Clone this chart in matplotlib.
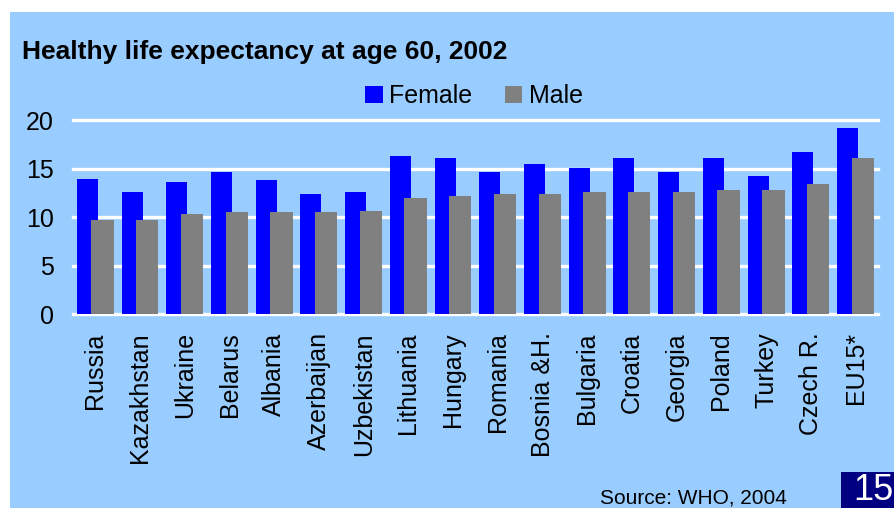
import matplotlib
matplotlib.use("Agg")
import matplotlib.pyplot as plt
import numpy as np
from matplotlib.patches import Rectangle, Patch

plt.rcParams['font.family'] = ['Liberation Sans', 'DejaVu Sans']

countries = ["Russia", "Kazakhstan", "Ukraine", "Belarus", "Albania", "Azerbaijan",
             "Uzbekistan", "Lithuania", "Hungary", "Romania", "Bosnia &H.", "Bulgaria",
             "Croatia", "Georgia", "Poland", "Turkey", "Czech R.", "EU15*"]
female = [14.0, 12.6, 13.6, 14.7, 13.8, 12.4, 12.6, 16.3, 16.1, 14.7, 15.5, 15.1,
          16.1, 14.7, 16.1, 14.3, 16.7, 19.2]
male = [9.7, 9.7, 10.3, 10.5, 10.5, 10.5, 10.7, 12.0, 12.2, 12.4, 12.4, 12.6,
        12.6, 12.6, 12.8, 12.8, 13.4, 16.1]
yticks = [0, 5, 10, 15, 20]

BG = "#99CCFF"
W, H = 894, 508

fig = plt.figure(figsize=(W / 100, H / 100), dpi=100)
fig.patch.set_facecolor("white")
# light blue slide panel, kept behind the axes
fig.patches.append(Rectangle((10 / W, 0), 1 - 10 / W, 1 - 12 / H,
                             transform=fig.transFigure, facecolor=BG,
                             edgecolor="none", zorder=-5))

ax = fig.add_axes([73 / W, 1 - 314.3 / H, (878 - 73) / W, (314.3 - 120.3) / H])
ax.set_zorder(2)
ax.set_facecolor("none")

x = np.arange(len(countries))
ax.bar(x - 0.18, female, width=0.47, color="#0000FF", zorder=2)
ax.bar(x + 0.16, male, width=0.50, color="#808080", zorder=3)

ax.set_xlim(-0.5, len(countries) - 0.5)
ax.set_ylim(0, 20)
ax.set_yticks(yticks)
ax.set_xticks(x)
ax.set_xticklabels(countries, rotation=90, fontsize=18)
ax.tick_params(axis="y", labelsize=18, length=0, pad=14)
ax.tick_params(axis="x", length=0, pad=13)
for s in ax.spines.values():
    s.set_visible(False)

ax.set_axisbelow(True)
ax.yaxis.grid(True, color="white", linewidth=2.4)
for gl in ax.get_ygridlines():
    gl.set_clip_on(False)

fig.text(22 / W, 1 - 52 / H, "Healthy life expectancy at age 60, 2002",
         fontsize=19, fontweight="bold", va="center", ha="left")

handles = [Patch(facecolor="#0000FF", label="Female"),
           Patch(facecolor="#808080", label="Male")]
fig.legend(handles=handles, loc="center", bbox_to_anchor=(474 / W, 1 - 96 / H),
           ncol=2, frameon=False, fontsize=18, handlelength=0.7, handleheight=0.7,
           handletextpad=0.25, columnspacing=1.3, borderpad=0)

fig.text(600 / W, 1 - 507 / H, "Source: WHO, 2004", fontsize=15,
         ha="left", va="bottom")

fig.patches.append(Rectangle((841 / W, 0), 1 - 841 / W, 36 / H,
                             transform=fig.transFigure, facecolor="#000080",
                             edgecolor="none", zorder=1))
fig.text(853 / W, 1 - 490 / H, "15", fontsize=26, color="white",
         ha="left", va="center", zorder=2)

fig.savefig("out.png", dpi=100, facecolor=fig.get_facecolor())
